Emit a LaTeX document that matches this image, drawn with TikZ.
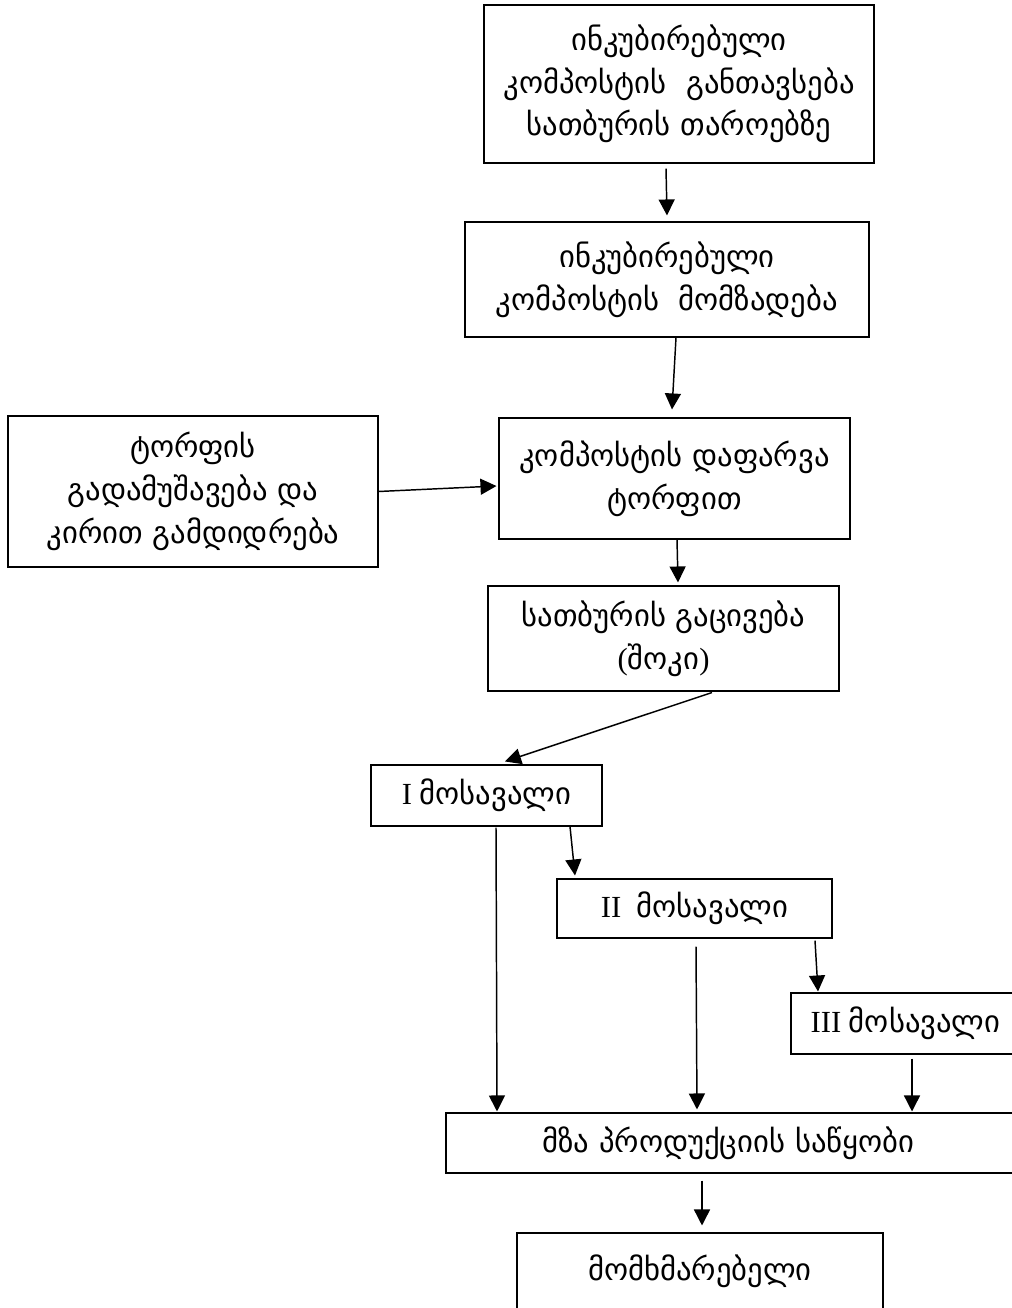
\documentclass[tikz,border=0pt]{standalone}
\usepackage{fontspec}
\setmainfont{Liberation Serif}
\newfontfamily\geo{DejaVu Sans}
\usepackage{tikz}
\usetikzlibrary{positioning,calc,arrows.meta}

\begin{document}
\begin{tikzpicture}[x=0.75pt,y=-0.75pt,font=\fontsize{23}{32}\selectfont]
	\tikzset{blk/.style={draw,line width=0.8pt,align=center,inner sep=0pt}}
	\tikzset{arr/.style={line width=1.1pt,-{Triangle[width=12pt,length=12pt]}}}
%	\draw[help lines] (0,0) grid (1012,1308);
	\clip (0,0) rectangle (1012,1308);

\node[blk,minimum width=390*0.75pt,minimum height=158*0.75pt] (inc) at (679,84)
	{{\geo ინკუბირებული}\\{\geo კომპოსტის\ \ განთავსება}\\{\geo სათბურის თაროებზე}};
\node[blk,minimum width=404*0.75pt,minimum height=115*0.75pt] (prep) at (667,279.5)
	{{\geo ინკუბირებული}\\{\geo კომპოსტის\ \ მომზადება}};
\node[blk,minimum width=351*0.75pt,minimum height=121*0.75pt] (cover) at (674.5,478.5)
	{{\geo კომპოსტის დაფარვა}\\{\geo ტორფით}};
\node[blk,minimum width=370*0.75pt,minimum height=151*0.75pt] (peat) at (193,491.5)
	{{\geo ტორფის}\\{\geo გადამუშავება და}\\{\geo კირით გამდიდრება}};
\node[blk,minimum width=351*0.75pt,minimum height=105*0.75pt] (cool) at (663.5,638.5)
	{{\geo სათბურის გაცივება}\\({\geo შოკი})};
\node[blk,minimum width=231*0.75pt,minimum height=61*0.75pt] (h1) at (486.5,795.5)
	{I {\geo მოსავალი}};
\node[blk,minimum width=275*0.75pt,minimum height=59*0.75pt] (h2) at (694.5,908.5)
	{II\ \ {\geo მოსავალი}};
\node[blk,minimum width=229*0.75pt,minimum height=61*0.75pt] (h3) at (905.5,1023.5)
	{III {\geo მოსავალი}};
\node[blk,minimum width=574*0.75pt,minimum height=60*0.75pt] (store) at (733,1143)
	{\hspace*{-7pt}{\geo მზა პროდუქციის საწყობი}};
\node[blk,minimum width=366*0.75pt,minimum height=87*0.75pt,text depth=18*0.75pt] (cons) at (700,1276.5)
	{{\geo მომხმარებელი}};

\draw[arr] ($(inc.south)+(-13,5)$) -- ($(prep.north)+(0,-6)$);
\draw[arr] ($(prep.south)+(9,0)$) -- ($(cover.north)+(-2.5,-8)$);
\draw[arr] (peat.east) -- ($(cover.west)+(-2,7.5)$);
\draw[arr] ($(cover.south)+(2.5,0)$) -- ($(cool.north)+(14.5,-3)$);
\draw[arr] ($(cool.south)+(48.5,1)$) -- ($(h1.north)+(18.5,-3)$);
\draw[arr] ($(h1.south)+(83.5,0)$) -- ($(h2.north)+(-119.5,-3)$);
\draw[arr] ($(h1.south)+(9.5,1)$) -- ($(store.north)+(-236,-1)$);
\draw[arr] ($(h2.south)+(120.5,2)$) -- ($(h3.north)+(-87.5,-1)$);
\draw[arr] ($(h2.south)+(1.5,8)$) -- ($(store.north)+(-36,-3)$);
\draw[arr] ($(h3.south)+(6.5,4)$) -- ($(store.north)+(179,-1)$);
\draw[arr] ($(store.south)+(-31,7)$) -- ($(cons.north)+(2,-7)$);

	\end{tikzpicture}
\end{document}
